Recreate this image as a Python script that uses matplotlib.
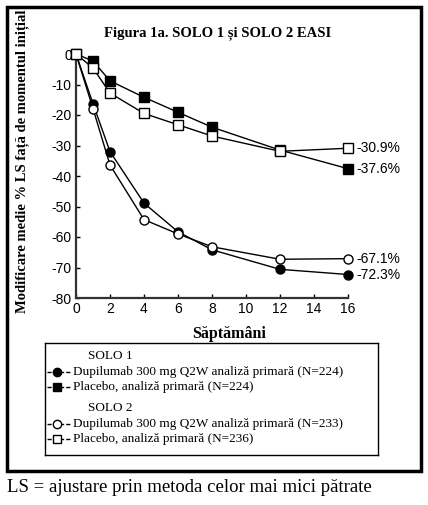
import matplotlib
matplotlib.use("Agg")
import matplotlib.pyplot as plt
from matplotlib.patches import Rectangle

plt.rcParams["axes.unicode_minus"] = False

# data
weeks = [0, 1, 2, 4, 6, 8, 12, 16]
dupi_solo1 = [0, -16.3, -32.0, -48.9, -58.3, -64.2, -70.6, -72.3]
plac_solo1 = [0, -2.3, -8.8, -14.2, -19.1, -24.0, -31.5, -37.6]
dupi_solo2 = [0, -17.9, -36.4, -54.3, -59.0, -63.2, -67.3, -67.1]
plac_solo2 = [0, -4.6, -12.8, -19.5, -23.2, -26.9, -31.9, -30.9]

end_labels = ["-72.3%", "-37.6%", "-67.1%", "-30.9%"]
legend_labels = ["Dupilumab 300 mg Q2W analiză primară (N=224)",
                 "Placebo, analiză primară (N=224)",
                 "Dupilumab 300 mg Q2W analiză primară (N=233)",
                 "Placebo, analiză primară (N=236)"]
xticks = list(range(0, 17, 2))
yticks = list(range(0, -90, -10))

W, H = 428, 505
fig = plt.figure(figsize=(W / 100, H / 100), dpi=100)
serif = "Liberation Serif"
sans = "Liberation Sans"


def fx(px):
    return px / W


def fy(py):
    return 1 - py / H


# outer frame
fig.patches.append(Rectangle((fx(7), fy(471)), fx(421) - fx(7), fy(7) - fy(471),
                             transform=fig.transFigure, fill=False, lw=2.5, ec="black"))

ax = fig.add_axes([fx(76), fy(298), fx(348) - fx(76), fy(54) - fy(298)])
series = [(dupi_solo1, "o", "black"), (plac_solo1, "s", "black"),
          (dupi_solo2, "o", "white"), (plac_solo2, "s", "white")]
for (vals, mk, fc), lab in zip(series, end_labels):
    ax.plot(weeks, vals, color="black", lw=1, marker=mk, ms=6.5, mfc=fc, mec="black",
            mew=1, clip_on=False, zorder=3)
    ax.text(16.5, vals[-1], lab, fontsize=10, family=sans, va="center", ha="left")

ax.set_xlim(0, 16)
ax.set_ylim(-80, 0)
ax.set_xticks(xticks)
ax.set_yticks(yticks)
for s in ["top", "right"]:
    ax.spines[s].set_visible(False)
for s in ["left", "bottom"]:
    ax.spines[s].set_linewidth(1.6)
    ax.spines[s].set_color("#333333")
ax.tick_params(direction="in", length=3, width=1, labelsize=10, pad=3)
for t in ax.get_xticklabels() + ax.get_yticklabels():
    t.set_family(sans)
ax.set_xlabel("Săptămâni", family=serif, weight="bold", fontsize=11.5)
ax.xaxis.set_label_coords((229 - 76) / (348 - 76), -0.115)

fig.text(fx(218), fy(33), "Figura 1a. SOLO 1 și SOLO 2 EASI", family=serif,
         weight="bold", fontsize=10.5, ha="center", va="center")
fig.text(fx(22), fy(161), "Modificare medie % LS față de momentul inițial", family=serif,
         weight="bold", fontsize=10.5, rotation=90, ha="center", va="center")

# legend box
lx0, lx1, ly0, ly1 = 45, 378, 343, 455
lax = fig.add_axes([fx(lx0), fy(ly1), fx(lx1) - fx(lx0), fy(ly0) - fy(ly1)])
lax.set_xlim(lx0, lx1)
lax.set_ylim(ly1, ly0)
lax.set_xticks([])
lax.set_yticks([])
for s in lax.spines.values():
    s.set_linewidth(1)
lax.text(88, 356, "SOLO 1", family=serif, fontsize=9.5, va="center")
lax.text(88, 408, "SOLO 2", family=serif, fontsize=9.5, va="center")
row_y = [372, 387, 424, 439]
for (vals, mk, fc), lab, ry in zip(series, legend_labels, row_y):
    lax.plot([47, 70], [ry, ry], color="black", lw=1, ls=(0, (3, 1.5)))
    lax.plot([57], [ry], marker=mk, ms=6, mfc=fc, mec="black", mew=1, ls="none")
    lax.text(73, ry, lab, family=serif, fontsize=9.5, va="center")

fig.text(fx(7), fy(487), "LS = ajustare prin metoda celor mai mici pătrate",
         family=serif, fontsize=13.5, va="center", ha="left")

fig.savefig("out.png", dpi=100)
